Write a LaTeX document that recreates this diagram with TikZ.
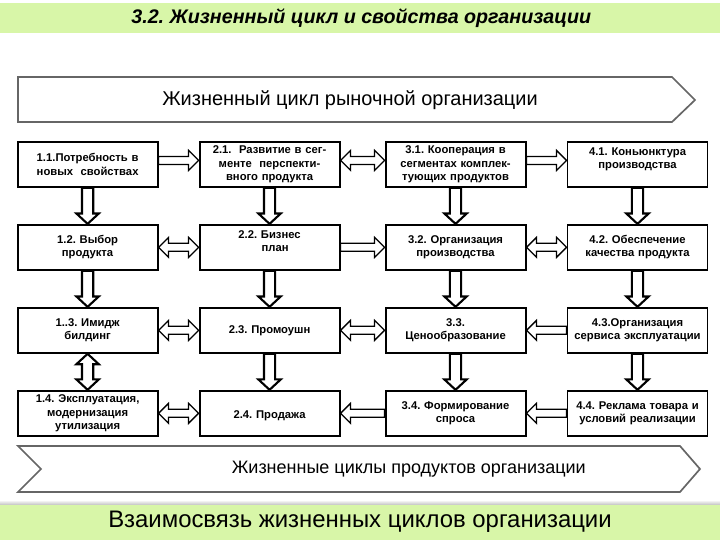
\documentclass[tikz,border=0pt]{standalone}
\usepackage{fontspec}
\setmainfont{Liberation Sans}
\usetikzlibrary{positioning, calc}
\frenchspacing
\definecolor{bandgreen}{RGB}{216,246,168}
\tikzstyle{stagebox} = [draw, line width=1.4pt, fill=white,
minimum width = 3.5cm, minimum height = 1.125cm,
text width = 3.3cm, align=center, inner sep = 1mm,
font=\bfseries\fontsize{8}{9.4}\selectfont]
\tikzstyle{blockarrow} = [draw, fill=white, line width=0.9pt,
line join=miter]
\tikzstyle{chevron} = [draw=black!60, line width=1.2pt, fill=white]
\tikzstyle{band} = [fill=bandgreen, draw=none]
\newcommand{\shaftw}{1mm}
\newcommand{\headw}{2.5mm}
\newcommand{\headl}{2.5mm}
%% hollow block arrow, one head at #3
\newcommand{\flowarrow}[3][]{%
  \coordinate (fa) at (#2); \coordinate (fb) at (#3);
  \coordinate (fh) at ($(fb)!\headl!(fa)$);
  \draw[blockarrow,#1] ($(fa)!\shaftw!90:(fb)$) -- ($(fh)!\shaftw!90:(fb)$)
    -- ($(fh)!\headw!90:(fb)$) -- (fb) -- ($(fh)!\headw!-90:(fb)$)
    -- ($(fh)!\shaftw!-90:(fb)$) -- ($(fa)!\shaftw!-90:(fb)$) -- cycle;}
%% hollow block arrow, heads at both ends
\newcommand{\bothways}[3][]{%
  \coordinate (fa) at (#2); \coordinate (fb) at (#3);
  \coordinate (fg) at ($(fa)!\headl!(fb)$);
  \coordinate (fh) at ($(fb)!\headl!(fa)$);
  \draw[blockarrow,#1] (fa) -- ($(fg)!\headw!90:(fb)$) -- ($(fg)!\shaftw!90:(fb)$)
    -- ($(fh)!\shaftw!90:(fb)$) -- ($(fh)!\headw!90:(fb)$) -- (fb)
    -- ($(fh)!\headw!-90:(fb)$) -- ($(fh)!\shaftw!-90:(fb)$)
    -- ($(fg)!\shaftw!-90:(fb)$) -- ($(fg)!\headw!-90:(fb)$) -- cycle;}

\begin{document}
\begin{tikzpicture}
	\useasboundingbox (0,0) rectangle (18,13.5);
	%% Green bands
	\fill[band] (0,12.675) rectangle (18,13.425);
	\node[font=\bfseries\itshape\fontsize{14}{16}\selectfont] (title) at (9.03,13.05)
		{3.2. Жизненный цикл и свойства организации};
	\shade[top color=white, bottom color=black!25] (0,0.875) rectangle (18,1.0);
	\fill[band] (0,0) rectangle (18,0.875);
	\node[font=\fontsize{17}{20}\selectfont] (footer) at (9,0.45)
		{Взаимосвязь жизненных циклов организации};
	%% Chevrons
	\draw[chevron] (0.45,11.575) -- (16.8,11.575) -- (17.375,11.0)
		-- (16.8,10.45) -- (0.45,10.45) -- cycle;
	\node[font=\fontsize{14.2}{16}\selectfont] (firm) at (8.75,11.0)
		{Жизненный цикл рыночной организации};
	\draw[chevron] (0.45,2.35) -- (17.0,2.35) -- (17.5,1.775)
		-- (17.0,1.2) -- (0.45,1.2) -- (1.025,1.775) -- cycle;
	\node[font=\fontsize{12.8}{15}\selectfont] (products) at (10.22,1.775)
		{Жизненные циклы продуктов организации};
	%% Boxes
	\coordinate (a) at (2.19, 9.39);
	\node[stagebox](need) at (a) {1.1.Потребность в\\новых\ \ свойствах};
	\node[stagebox, right=1.0cm of need](develop) {2.1.\ \ Развитие в сег-\\менте\ \ перспекти-\\вного продукта};
	\node[stagebox, right=1.1cm of develop](coop) {3.1. Кооперация в\\сегментах комплек-\\тующих продуктов};
	\node[stagebox, right=1.0cm of coop](market) {4.1. Коньюнктура\\производства\\\mbox{}};
	\node[stagebox, below=0.9cm of need](choice) {1.2. Выбор\\продукта};
	\node[stagebox, below=0.9cm of develop](plan) {2.2. Бизнес\\\ \ \ план\\\mbox{}};
	\node[stagebox, below=0.9cm of coop](prod) {3.2. Организация\\производства};
	\node[stagebox, below=0.9cm of market](quality) {4.2. Обеспечение\\качества продукта};
	\node[stagebox, below=0.9cm of choice](image) {1..3. Имидж\\билдинг};
	\node[stagebox, below=0.9cm of plan](promo) {2.3. Промоушн};
	\node[stagebox, below=0.9cm of prod](price) {3.3.\\Ценообразование};
	\node[stagebox, below=0.9cm of quality](service) {4.3.Организация\\сервиса эксплуатации};
	\node[stagebox, below=0.9cm of image](use) {1.4. Эксплуатация,\\модернизация\\утилизация};
	\node[stagebox, below=0.9cm of promo](sale) {\mbox{}\\2.4. Продажа};
	\node[stagebox, below=0.9cm of price](demand) {3.4. Формирование\\спроса};
	\node[stagebox, below=0.9cm of service](advert) {4.4. Реклама товара и\\условий реализации};
	%% Arrows along the rows
	\flowarrow{[yshift=1mm]need.east}{[yshift=1mm]develop.west}
	\bothways{[yshift=1mm]develop.east}{[yshift=1mm]coop.west}
	\flowarrow{[yshift=1mm]coop.east}{[yshift=1mm]market.west}
	\bothways{choice.east}{plan.west}
	\flowarrow{plan.east}{prod.west}
	\bothways{prod.east}{quality.west}
	\bothways{image.east}{promo.west}
	\bothways{promo.east}{price.west}
	\flowarrow{service.west}{price.east}
	\bothways{use.east}{sale.west}
	\flowarrow{demand.west}{sale.east}
	\flowarrow{advert.west}{demand.east}
	%% Arrows down the columns
	\begin{scope}
		\renewcommand{\shaftw}{1.4mm}
		\renewcommand{\headw}{2.8mm}
		\renewcommand{\headl}{2.6mm}
		\foreach \top/\bot in {need/choice, develop/plan, coop/prod, market/quality,
			choice/image, plan/promo, prod/price, quality/service,
			promo/sale, price/demand, service/advert}
			{\flowarrow[line width=1.5pt]{\top.south}{\bot.north}}
		\bothways[line width=1.5pt]{image.south}{use.north}
	\end{scope}
\end{tikzpicture}
\end{document}
